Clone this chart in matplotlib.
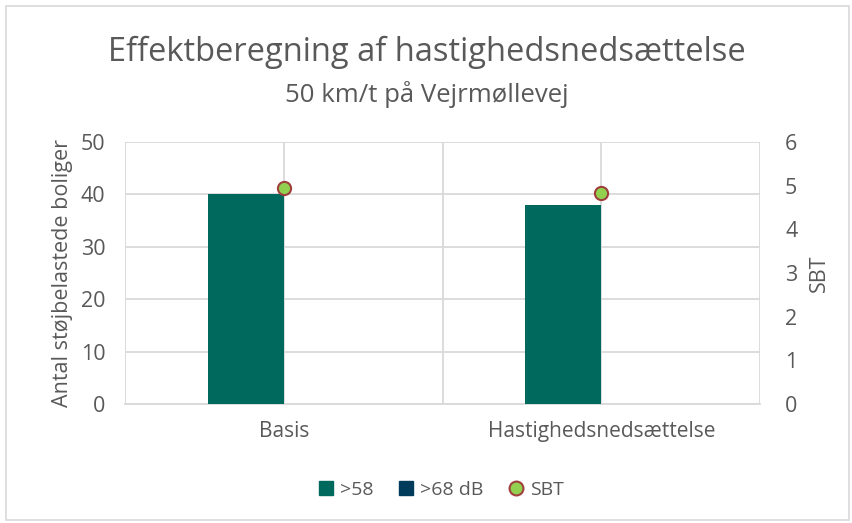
import numpy as np
import matplotlib.pyplot as plt
from matplotlib.patches import Rectangle
from matplotlib.lines import Line2D

plt.rcParams['font.family'] = ['Open Sans', 'DejaVu Sans']

categories = ['Basis', 'Hastighedsnedsættelse']
over_58 = [40, 38]
over_68 = [0, 0]
sbt = [4.95, 4.83]

text_col = '#595959'
grid_col = '#D9D9D9'

fig = plt.figure(figsize=(8.53, 5.23), dpi=100)
ax = fig.add_axes([125/853, 1 - 404/523, 635/853, 262/523])
ax2 = ax.twinx()

x = np.arange(len(categories))
w = 0.24
ax.bar(x - w/2, over_58, width=w, color='#00695E', label='>58', zorder=3)
ax.bar(x + w/2, over_68, width=w, color='#003B5C', label='>68 dB', zorder=3)
ax2.scatter(x, sbt, s=90, color='#92D050', edgecolor='#A0403E', linewidth=1.5, zorder=5, label='SBT', clip_on=False)

ax.set_xlim(-0.5, 1.5)
ax.set_ylim(0, 50)
ax.set_yticks(np.arange(0, 51, 10))
ax2.set_ylim(0, 6)
ax2.set_yticks(np.arange(0, 7, 1))

# gridlines: horizontal on primary, vertical at category centres and borders
ax.grid(axis='y', color=grid_col, linewidth=1.3, zorder=0)
for xv in [-0.5, 0, 0.5, 1, 1.5]:
    ax.axvline(xv, color=grid_col, linewidth=1.3, zorder=0)

for a in (ax, ax2):
    for s in a.spines.values():
        s.set_visible(False)
    a.tick_params(length=0, colors=text_col, labelsize=15.5)
ax.spines['bottom'].set_visible(True)
ax.spines['bottom'].set_color(grid_col)
ax.spines['bottom'].set_linewidth(1.3)

ax.set_xticks(x)
ax.set_xticklabels(categories)
ax.tick_params(axis='x', pad=12, labelsize=15)
ax.tick_params(axis='y', pad=14)
ax2.tick_params(axis='y', pad=18)

ax.set_ylabel('Antal støjbelastede boliger', color=text_col, fontsize=15.5, labelpad=6)
ax2.set_ylabel('SBT', color=text_col, fontsize=15.5, labelpad=8)

fig.text(0.5, 1 - 52/523, 'Effektberegning af hastighedsnedsættelse', ha='center', va='center',
         fontsize=23.5, color=text_col)
fig.text(0.5, 1 - 95/523, '50 km/t på Vejrmøllevej', ha='center', va='center',
         fontsize=18.5, color=text_col)

handles = [
    Line2D([], [], marker='s', linestyle='', markersize=10, color='#00695E'),
    Line2D([], [], marker='s', linestyle='', markersize=10, color='#003B5C'),
    Line2D([], [], marker='o', linestyle='', markersize=10, markerfacecolor='#92D050',
           markeredgecolor='#A0403E', markeredgewidth=1.5),
]
fig.legend(handles, ['>58', '>68 dB', 'SBT'], loc='center', bbox_to_anchor=(0.516, 1 - 490/523),
           ncol=3, frameon=False, fontsize=14, labelcolor=text_col, handletextpad=0.2,
           columnspacing=1.2, handlelength=1.0)

fig.patches.append(Rectangle((6/853, 3/523), 843/853, 514/523, transform=fig.transFigure,
                             fill=False, edgecolor=grid_col, linewidth=1.2))

fig.savefig('out.png', dpi=100)
